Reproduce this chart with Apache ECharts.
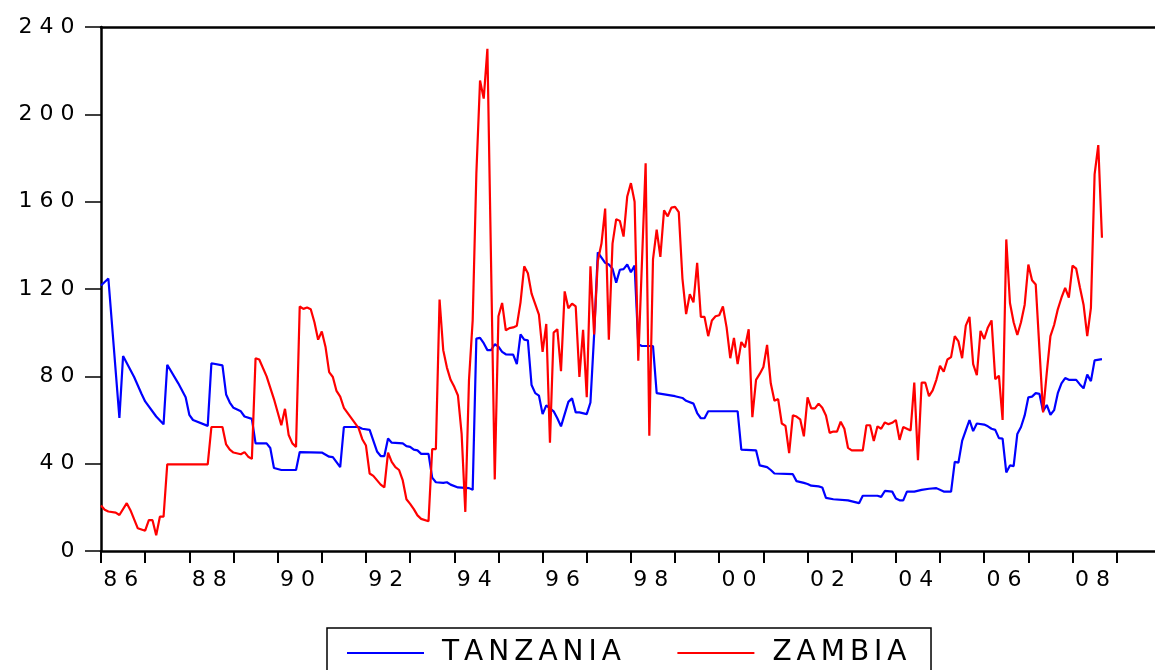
<!DOCTYPE html>
<html>
<head>
<meta charset="utf-8">
<title>Tanzania / Zambia</title>
<script src="https://cdn.jsdelivr.net/npm/echarts@6/dist/echarts.min.js"></script>
<style>
  html, body { margin: 0; padding: 0; background: #fff; }
  #chart { width: 1155px; height: 670px; }
</style>
</head>
<body>
<div id="chart"></div>
<script>
// monthly values, [month, value]; straight runs keep only their end points
const tanzania = [
  ['1986-01', 121.6], ['1986-03', 124.8], ['1986-06', 61], ['1986-07', 89.3], ['1986-10', 79.7],
  ['1986-12', 72], ['1987-01', 68.5], ['1987-04', 61.6], ['1987-06', 58], ['1987-07', 85.3],
  ['1987-10', 76.8], ['1987-12', 70.4], ['1988-01', 62.4], ['1988-02', 60], ['1988-06', 57.3],
  ['1988-07', 86], ['1988-10', 85], ['1988-11', 71.7], ['1988-12', 68], ['1989-01', 65.6],
  ['1989-03', 64], ['1989-04', 61.6], ['1989-06', 60.5], ['1989-07', 49.3], ['1989-10', 49.3],
  ['1989-11', 47.2], ['1989-12', 38], ['1990-02', 37.1], ['1990-06', 37.1], ['1990-07', 45.3],
  ['1991-01', 45.1], ['1991-03', 43.2], ['1991-04', 43], ['1991-06', 38.4], ['1991-07', 56.8],
  ['1991-11', 56.8], ['1991-12', 56], ['1992-02', 55.5], ['1992-04', 45.6], ['1992-05', 43.5],
  ['1992-06', 43.5], ['1992-07', 51.5], ['1992-08', 49.6], ['1992-11', 49.3], ['1992-12', 48],
  ['1993-01', 47.7], ['1993-02', 46.4], ['1993-03', 46.1], ['1993-04', 44.5], ['1993-06', 44.5],
  ['1993-07', 33.6], ['1993-08', 31.5], ['1993-10', 31.2], ['1993-11', 31.5], ['1993-12', 30.4],
  ['1994-02', 29.1], ['1994-05', 28.8], ['1994-06', 28], ['1994-07', 97.3], ['1994-08', 97.6],
  ['1994-09', 95.2], ['1994-10', 92], ['1994-11', 92], ['1994-12', 94.7], ['1995-01', 93.6],
  ['1995-02', 91.2], ['1995-03', 90.1], ['1995-05', 89.9], ['1995-06', 85.6], ['1995-07', 99.2],
  ['1995-08', 96.8], ['1995-09', 96.5], ['1995-10', 76], ['1995-11', 72.3], ['1995-12', 71.2],
  ['1996-01', 62.7], ['1996-02', 66.7], ['1996-04', 64], ['1996-05', 60.8], ['1996-06', 57.1],
  ['1996-08', 68.3], ['1996-09', 69.9], ['1996-10', 63.5], ['1996-11', 63.5], ['1997-01', 62.7],
  ['1997-02', 68], ['1997-03', 99], ['1997-04', 136.8], ['1997-05', 134.4], ['1997-06', 132],
  ['1997-07', 131.2], ['1997-08', 129.3], ['1997-09', 122.9], ['1997-10', 128.8], ['1997-11', 129.1],
  ['1997-12', 131.2], ['1998-01', 127.7], ['1998-02', 130.7], ['1998-03', 94.7], ['1998-04', 93.9],
  ['1998-07', 93.9], ['1998-08', 72.3], ['1999-01', 70.9], ['1999-03', 70.1], ['1999-04', 68.8],
  ['1999-06', 67.5], ['1999-07', 63.2], ['1999-08', 60.8], ['1999-09', 60.8], ['1999-10', 64],
  ['2000-06', 64], ['2000-07', 46.4], ['2000-11', 46.1], ['2000-12', 39.2], ['2001-02', 38.4],
  ['2001-03', 37.1], ['2001-04', 35.5], ['2001-09', 35.2], ['2001-10', 32], ['2001-12', 31.2],
  ['2002-01', 30.7], ['2002-02', 29.9], ['2002-04', 29.6], ['2002-05', 29.1], ['2002-06', 24.3],
  ['2002-08', 23.7], ['2002-12', 23.2], ['2003-03', 21.9], ['2003-04', 25.3], ['2003-08', 25.3],
  ['2003-09', 24.8], ['2003-10', 27.5], ['2003-12', 27.2], ['2004-01', 24], ['2004-02', 23.2],
  ['2004-03', 23.2], ['2004-04', 27.2], ['2004-06', 27.2], ['2004-08', 28], ['2004-10', 28.5],
  ['2004-12', 28.8], ['2005-02', 27.2], ['2005-04', 27.2], ['2005-05', 40.8], ['2005-06', 40.5],
  ['2005-07', 50.4], ['2005-08', 55.2], ['2005-09', 60], ['2005-10', 54.9], ['2005-11', 58.4],
  ['2006-01', 57.9], ['2006-02', 57.1], ['2006-03', 56], ['2006-04', 55.5], ['2006-05', 51.7],
  ['2006-06', 51.5], ['2006-07', 36], ['2006-08', 39.2], ['2006-09', 38.9], ['2006-10', 53.6],
  ['2006-11', 56.8], ['2006-12', 62.1], ['2007-01', 70.4], ['2007-02', 70.7], ['2007-03', 72.3],
  ['2007-04', 72], ['2007-05', 64], ['2007-06', 66.9], ['2007-07', 62.4], ['2007-08', 64.5],
  ['2007-09', 72.3], ['2007-10', 76.8], ['2007-11', 79.2], ['2007-12', 78.4], ['2008-02', 78.4],
  ['2008-03', 76.3], ['2008-04', 74.5], ['2008-05', 80.8], ['2008-06', 77.8], ['2008-07', 87.3],
  ['2008-09', 87.9]
]

const zambia = [
  ['1986-01', 20.8], ['1986-02', 18.9], ['1986-03', 18.1], ['1986-05', 17.6], ['1986-06', 16.5],
  ['1986-08', 21.9], ['1986-09', 18.7], ['1986-11', 10.4], ['1987-01', 9.3], ['1987-02', 14.1],
  ['1987-03', 14.1], ['1987-04', 7.2], ['1987-05', 15.7], ['1987-06', 15.7], ['1987-07', 39.7],
  ['1988-06', 39.7], ['1988-07', 56.8], ['1988-10', 56.8], ['1988-11', 48.8], ['1988-12', 46.4],
  ['1989-01', 45.1], ['1989-03', 44.3], ['1989-04', 45.3], ['1989-05', 43.2], ['1989-06', 42.2],
  ['1989-07', 88.3], ['1989-08', 87.7], ['1989-10', 80], ['1989-12', 69.6], ['1990-02', 57.6],
  ['1990-03', 65.1], ['1990-04', 53.1], ['1990-05', 49.3], ['1990-06', 47.7], ['1990-07', 112],
  ['1990-08', 110.9], ['1990-09', 111.5], ['1990-10', 110.7], ['1990-11', 104.8], ['1990-12', 96.8],
  ['1991-01', 100.5], ['1991-02', 93.6], ['1991-03', 81.9], ['1991-04', 79.7], ['1991-05', 73.3],
  ['1991-06', 70.7], ['1991-07', 65.6], ['1991-11', 56.3], ['1991-12', 51.2], ['1992-01', 48.3],
  ['1992-02', 35.5], ['1992-03', 34.4], ['1992-05', 30.4], ['1992-06', 29.1], ['1992-07', 45.1],
  ['1992-08', 40.8], ['1992-09', 38.4], ['1992-10', 37.1], ['1992-11', 32.3], ['1992-12', 23.7],
  ['1993-01', 21.6], ['1993-02', 19.2], ['1993-03', 16.3], ['1993-04', 14.7], ['1993-06', 13.6],
  ['1993-07', 46.7], ['1993-08', 46.7], ['1993-09', 115.2], ['1993-10', 92], ['1993-11', 84],
  ['1993-12', 78.4], ['1994-01', 75.2], ['1994-02', 71.2], ['1994-03', 53.6], ['1994-04', 17.9],
  ['1994-05', 78.4], ['1994-06', 105.6], ['1994-07', 172.8], ['1994-08', 215.5], ['1994-09', 207.2],
  ['1994-10', 230], ['1994-12', 32.8], ['1995-01', 107.5], ['1995-02', 113.6], ['1995-03', 101.1],
  ['1995-04', 102.1], ['1995-05', 102.4], ['1995-06', 103.2], ['1995-07', 113.9], ['1995-08', 130.4],
  ['1995-09', 127.2], ['1995-10', 117.9], ['1995-11', 113.1], ['1995-12', 108.3], ['1996-01', 91.2],
  ['1996-02', 104], ['1996-03', 49.6], ['1996-04', 100], ['1996-05', 101.6], ['1996-06', 82.4],
  ['1996-07', 118.9], ['1996-08', 111.2], ['1996-09', 113.3], ['1996-10', 112], ['1996-11', 79.7],
  ['1996-12', 101.3], ['1997-01', 70.4], ['1997-02', 130.4], ['1997-03', 99.2], ['1997-04', 132.8],
  ['1997-05', 140.8], ['1997-06', 156.8], ['1997-07', 96.8], ['1997-08', 140.8], ['1997-09', 152],
  ['1997-10', 151.2], ['1997-11', 144], ['1997-12', 162.4], ['1998-01', 168.5], ['1998-02', 160],
  ['1998-03', 87.2], ['1998-05', 177.6], ['1998-06', 52.8], ['1998-07', 133.6], ['1998-08', 147.2],
  ['1998-09', 134.7], ['1998-10', 156], ['1998-11', 153.3], ['1998-12', 157.3], ['1999-01', 157.6],
  ['1999-02', 155.2], ['1999-03', 124.8], ['1999-04', 108.5], ['1999-05', 117.6], ['1999-06', 113.9],
  ['1999-07', 132], ['1999-08', 107.2], ['1999-09', 107.2], ['1999-10', 98.4], ['1999-11', 105.6],
  ['1999-12', 107.5], ['2000-01', 108], ['2000-02', 112], ['2000-03', 102.4], ['2000-04', 88.3],
  ['2000-05', 97.6], ['2000-06', 85.6], ['2000-07', 95.7], ['2000-08', 93.3], ['2000-09', 101.6],
  ['2000-10', 61.3], ['2000-11', 78.4], ['2000-12', 81.1], ['2001-01', 84.3], ['2001-02', 94.4],
  ['2001-03', 76.8], ['2001-04', 68.8], ['2001-05', 69.6], ['2001-06', 58.4], ['2001-07', 57.3],
  ['2001-08', 44.8], ['2001-09', 62.1], ['2001-10', 61.6], ['2001-11', 60.3], ['2001-12', 52.5],
  ['2002-01', 70.4], ['2002-02', 65.3], ['2002-03', 65.3], ['2002-04', 67.5], ['2002-05', 65.6],
  ['2002-06', 62.1], ['2002-07', 54.1], ['2002-08', 54.7], ['2002-09', 54.7], ['2002-10', 59.2],
  ['2002-11', 56], ['2002-12', 47.2], ['2003-01', 46.1], ['2003-04', 46.1], ['2003-05', 57.6],
  ['2003-06', 57.6], ['2003-07', 50.4], ['2003-08', 57.1], ['2003-09', 56], ['2003-10', 58.9],
  ['2003-11', 58.1], ['2003-12', 58.7], ['2004-01', 60], ['2004-02', 50.9], ['2004-03', 56.8],
  ['2004-04', 56], ['2004-05', 55.2], ['2004-06', 77.1], ['2004-07', 41.6], ['2004-08', 77.1],
  ['2004-09', 77.1], ['2004-10', 70.9], ['2004-11', 73.6], ['2004-12', 78.4], ['2005-01', 84.8],
  ['2005-02', 82.1], ['2005-03', 87.7], ['2005-04', 88.8], ['2005-05', 98.4], ['2005-06', 96],
  ['2005-07', 88.3], ['2005-08', 103.2], ['2005-09', 107.2], ['2005-10', 85.6], ['2005-11', 80.5],
  ['2005-12', 100.8], ['2006-01', 97.1], ['2006-02', 102.4], ['2006-03', 105.6], ['2006-04', 78.7],
  ['2006-05', 80.3], ['2006-06', 60], ['2006-07', 142.7], ['2006-08', 113.6], ['2006-09', 104.8],
  ['2006-10', 98.9], ['2006-11', 104.8], ['2006-12', 112.8], ['2007-01', 131.2], ['2007-02', 124],
  ['2007-03', 122.1], ['2007-04', 92.8], ['2007-05', 63.5], ['2007-06', 81.6], ['2007-07', 98.4],
  ['2007-08', 103.5], ['2007-09', 110.7], ['2007-10', 116], ['2007-11', 120.5], ['2007-12', 116],
  ['2008-01', 130.7], ['2008-02', 129.3], ['2008-03', 120.8], ['2008-04', 112.8], ['2008-05', 98.4],
  ['2008-06', 111.4], ['2008-07', 172.5], ['2008-08', 185.9], ['2008-09', 143.5]
]

const seriesNames = ['TANZANIA', 'ZAMBIA']
const yearTicks = [1986, 1987, 1988, 1989, 1990, 1991, 1992, 1993, 1994, 1995, 1996, 1997,
  1998, 1999, 2000, 2001, 2002, 2003, 2004, 2005, 2006, 2007, 2008, 2009]
const labelYears = [1986, 1988, 1990, 1992, 1994, 1996, 1998, 2000, 2002, 2004, 2006, 2008]
const yearLabels = ['86', '88', '90', '92', '94', '96', '98', '00', '02', '04', '06', '08']

const FONT = '"DejaVu Sans", sans-serif'

// '1994-07' -> 1994.5
function toYear(month) {
  const [y, m] = month.split('-').map(Number)
  return y + (m - 1) / 12
}

// EViews draws its text stretched wide; spread the glyphs out to match
function spaced(text, style, first) {
  return text.split('').map((c, i) => `{${i === 0 && first ? first : style}|${c}}`).join('')
}

const chart = echarts.init(document.getElementById('chart'), null, { renderer: 'canvas' })

const xMin = 1986
const xMax = 1986 + 1054 / 44.16 // axis runs on past the last tick to the picture's edge

const digit = { fontFamily: FONT, fontSize: 22, color: '#000', padding: [0, 3.5, 0, 3.5] }
const letter = { fontFamily: FONT, fontSize: 28, lineHeight: 30, color: '#000' }

chart.setOption({
  animation: false,
  backgroundColor: '#fff',
  grid: { left: 101, top: 27, width: 1054, bottom: 119 },
  legend: {
    data: seriesNames,
    left: 327,
    top: 628,
    icon: 'rect',
    itemWidth: 77,
    itemHeight: 2,
    itemGap: 54,
    padding: [11, 22, 40, 20],
    borderColor: '#000',
    borderWidth: 1.5,
    selectedMode: false,
    formatter: (name) => spaced(name, 'l', 'f'),
    textStyle: {
      fontFamily: FONT,
      fontSize: 28,
      rich: {
        l: { ...letter, padding: [0, 2.5, 0, 2.5] },
        f: { ...letter, padding: [0, 2.5, 0, 13] },
      },
    },
  },
  xAxis: [
    {
      type: 'value',
      min: xMin,
      max: xMax,
      axisLine: { show: true, onZero: false, lineStyle: { color: '#000', width: 2.5 } },
      axisTick: { show: true, customValues: yearTicks, length: 12, lineStyle: { color: '#000', width: 2 } },
      axisLabel: {
        customValues: labelYears.map((y) => y + 0.45),
        margin: 18,
        fontFamily: FONT,
        fontSize: 22,
        formatter: (v) => spaced(yearLabels[labelYears.indexOf(Math.floor(v))] || '', 'd'),
        rich: { d: digit },
      },
      splitLine: { show: false },
    },
    {
      type: 'value',
      position: 'top',
      min: xMin,
      max: xMax,
      axisLine: { show: true, onZero: false, lineStyle: { color: '#000', width: 2.5 } },
      axisTick: { show: false },
      axisLabel: { show: false },
      splitLine: { show: false },
    },
  ],
  yAxis: {
    type: 'value',
    min: 0,
    max: 240,
    interval: 40,
    axisLine: { show: true, lineStyle: { color: '#000', width: 2.5 } },
    axisTick: { show: true, length: 16, lineStyle: { color: '#000', width: 1.5 } },
    axisLabel: {
      margin: 23,
      fontFamily: FONT,
      fontSize: 22,
      formatter: (v) => spaced(String(v), 'd'),
      rich: { d: digit },
    },
    splitLine: { show: false },
  },
  series: [
    {
      name: seriesNames[0],
      type: 'line',
      showSymbol: false,
      symbol: 'none',
      color: '#0000ff',
      lineStyle: { width: 2.2, color: '#0000ff' },
      data: tanzania.map(([m, v]) => [toYear(m), v]),
    },
    {
      name: seriesNames[1],
      type: 'line',
      showSymbol: false,
      symbol: 'none',
      color: '#ff0000',
      lineStyle: { width: 2.2, color: '#ff0000' },
      data: zambia.map(([m, v]) => [toYear(m), v]),
    },
  ],
})
</script>
</body>
</html>
